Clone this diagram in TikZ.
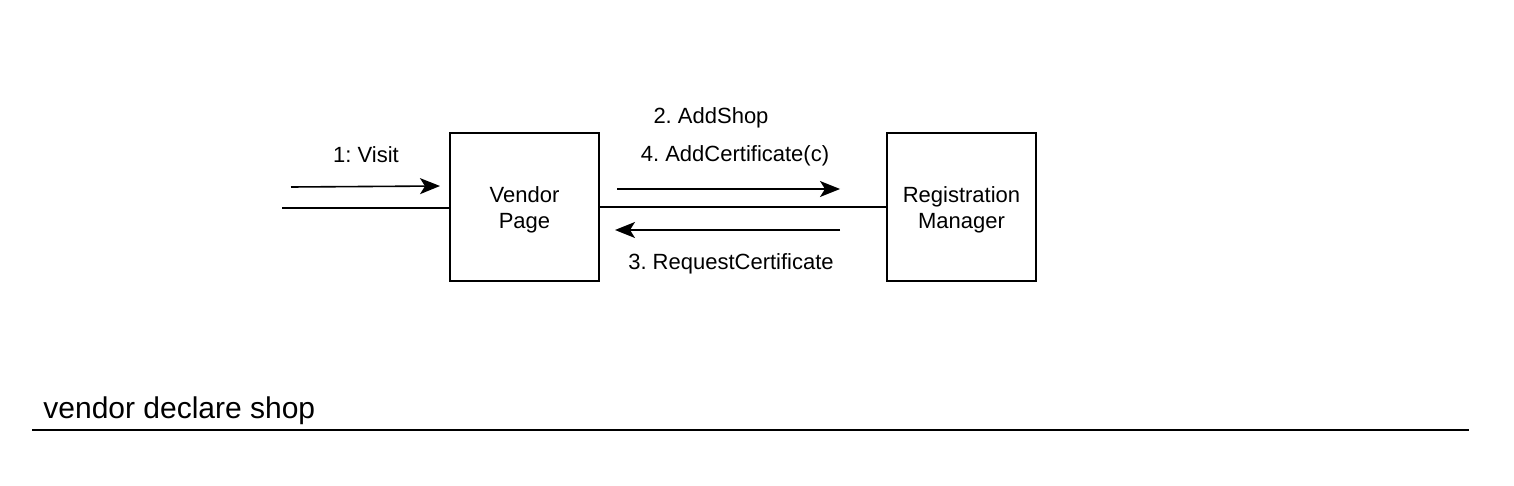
\documentclass[tikz,border=0pt]{standalone}
\usepackage{fontspec}
\setmainfont{Liberation Sans}
\usetikzlibrary{arrows.meta}
\frenchspacing
\begin{document}
\begin{tikzpicture}[x=0.5pt,y=-0.5pt,
  box/.style={draw,line width=1pt,minimum width=74.5pt,minimum height=74pt,inner sep=0pt},
  boxtext/.style={align=center,font=\fontsize{11pt}{13pt}\selectfont,inner sep=0pt,yshift=-1.6pt},
  lbl/.style={font=\fontsize{11pt}{13pt}\selectfont,inner sep=0pt},
  link/.style={line width=0.8pt},
  msg/.style={line width=0.8pt,-{Stealth[length=10pt,width=8pt,inset=2.5pt]}}]
\useasboundingbox (0,0) rectangle (1514,486);
\node[box] (vp) at (524.5,207) {};
\node[boxtext] (vpt) at (vp.center) {Vendor\\Page};
\node[box] (rm) at (961.5,207) {};
\node[boxtext] (rmt) at (rm.center) {Registration\\Manager};
\coordinate (lft) at (282,208);
\draw[link] (lft) -- (vp.west |- lft);
\draw[link] (vp.east) -- (rm.west);
\coordinate (a1s) at (291,187);
\coordinate (a1e) at (440,186);
\draw[msg] (a1s) -- (a1e);
\node[lbl] (l1) at (366,155) {1: Visit};
\coordinate (a2s) at (617,189);
\coordinate (a2e) at (840,189);
\draw[msg] (a2s) -- (a2e);
\node[lbl] (l2) at (711,118) {2. AddShop};
\node[lbl] (l4) at (735,156) {4. AddCertificate(c)};
\coordinate (a3s) at (840,230);
\coordinate (a3e) at (615,230);
\draw[msg] (a3s) -- (a3e);
\node[lbl] (l3) at (731,264) {3. RequestCertificate};
\node[font=\fontsize{15pt}{17pt}\selectfont,anchor=west,inner sep=0pt] (title) at (43,411) {vendor declare shop};
\coordinate (b1) at (32,430);
\coordinate (b2) at (1469,430);
\draw[line width=1pt] (b1) -- (b2);
\end{tikzpicture}
\end{document}
